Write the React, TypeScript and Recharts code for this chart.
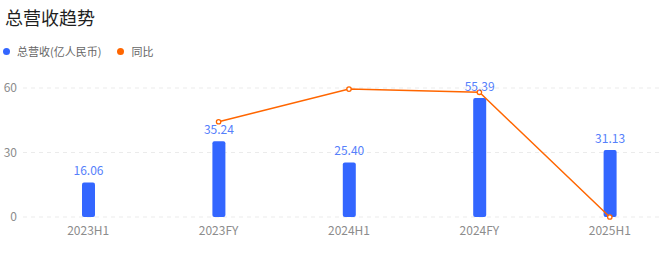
import React from "react";
import { ComposedChart, Bar, Line, XAxis, YAxis, CartesianGrid, LabelList } from "recharts";

const periods = ["2023H1", "2023FY", "2024H1", "2024FY", "2025H1"];
const revenue = [16.06, 35.24, 25.4, 55.39, 31.13];
const yoy: (number | null)[] = [null, 44.3, 59.5, 58.0, 0];
const yTicks = [0, 30, 60];

const rows = periods.map((p, i) => ({ name: p, revenue: revenue[i], yoy: yoy[i] }));

const font = '"Noto Sans CJK SC", "Noto Sans", sans-serif';

export default function App() {
  return (
    <div style={{ position: "absolute", left: 0, top: 0, width: 660, height: 253, overflow: "hidden", background: "#fff", fontFamily: font }}>
      <div style={{ position: "absolute", left: 5, top: 4, fontSize: 18, color: "#1f1f1f" }}>总营收趋势</div>
      <div style={{ position: "absolute", left: 3, top: 43, fontSize: 11, color: "#666", display: "flex", alignItems: "center" }}>
        <span style={{ width: 7, height: 7, borderRadius: 4, background: "#3366ff", display: "inline-block", marginRight: 7 }} />
        <span>总营收(亿人民币)</span>
        <span style={{ width: 7, height: 7, borderRadius: 4, background: "#ff6600", display: "inline-block", marginLeft: 16, marginRight: 7 }} />
        <span>同比</span>
      </div>
      <div style={{ position: "absolute", left: 0, top: 0 }}>
        <ComposedChart width={690} height={253} data={rows} margin={{ top: 88, right: 15, bottom: 6, left: 0 }}>
          <CartesianGrid vertical={false} strokeDasharray="4 4" stroke="#ebebeb" />
          <XAxis dataKey="name" height={30} axisLine={false} tickLine={false} tickSize={0} tickMargin={9}
            tick={{ fontSize: 12, fill: "#8c8c8c", fontFamily: font }} />
          <YAxis domain={[0, 60]} ticks={yTicks} width={23} axisLine={false} tickLine={false} tickSize={0} tickMargin={6}
            tick={{ fontSize: 12, fill: "#8c8c8c", fontFamily: font }} />
          <Bar dataKey="revenue" fill="#3366ff" barSize={13} radius={2} isAnimationActive={false}>
            <LabelList dataKey="revenue" position="top" offset={7} fill="#5580fb" fontSize={12}
              fontFamily={font} formatter={(v: any) => Number(v).toFixed(2)} />
          </Bar>
          <Line dataKey="yoy" stroke="#ff6600" strokeWidth={1.5} connectNulls={false}
            dot={{ r: 2.2, fill: "#fff", stroke: "#ff6600", strokeWidth: 1.3 }} isAnimationActive={false} />
        </ComposedChart>
      </div>
    </div>
  );
}
